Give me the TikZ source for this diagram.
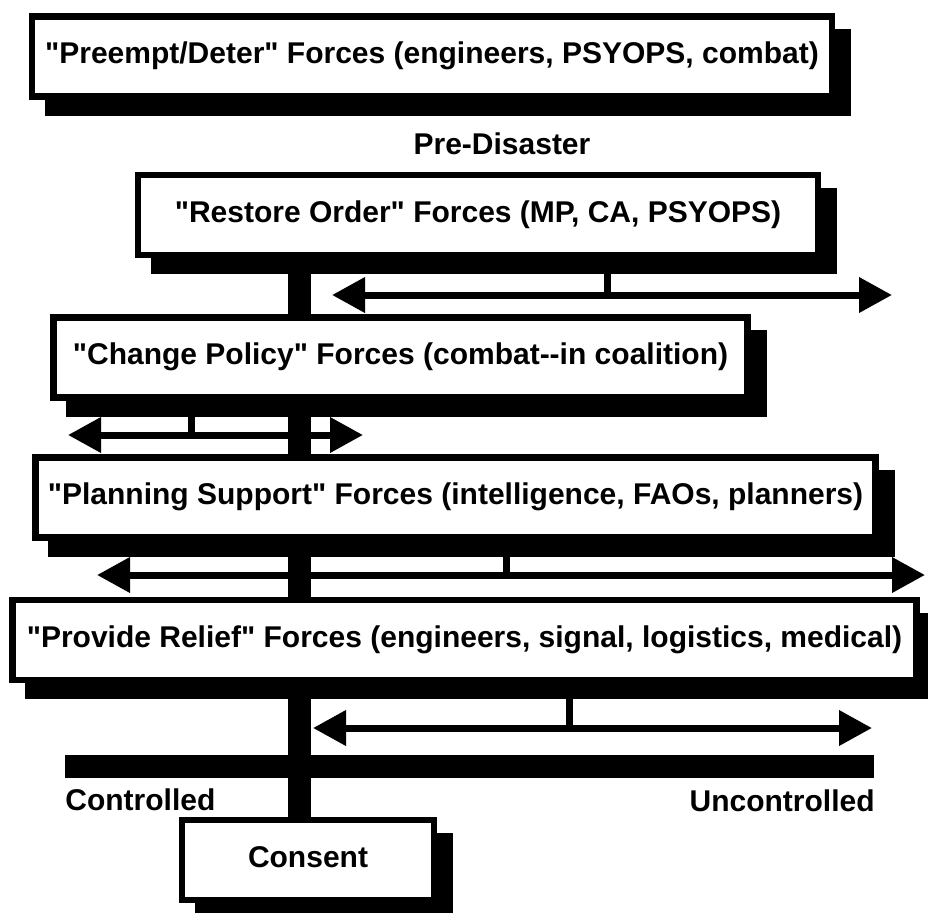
\documentclass[tikz,border=0pt]{standalone}
\usepackage{fontspec}
\setmainfont{Liberation Sans}
\usetikzlibrary{arrows.meta,shadows}
\newcommand{\qt}[1]{\textquotedbl#1\textquotedbl}
\begin{document}
\begin{tikzpicture}[x=0.5pt,y=-0.5pt,line cap=butt,>={Triangle[length=16.5pt,width=17pt]},
	force/.style={draw,line width=3.25pt,fill=white,minimum height=40pt,inner sep=0pt,text height=0.72em,text depth=0pt,
		font=\bfseries\fontsize{15pt}{18pt}\selectfont,
		drop shadow={shadow xshift=8pt,shadow yshift=-8pt,fill=black,draw=black,line width=3.25pt,opacity=1}},
	lbl/.style={inner sep=0pt,font=\bfseries\fontsize{15pt}{18pt}\selectfont},
	thickbar/.style={line width=11.5pt},
	stem/.style={line width=3.5pt},
	span/.style={<->,line width=3.5pt}]
	\useasboundingbox (0,0) rectangle (928,912);
	\node[force,minimum width=400pt] (preempt) at (432,56.5) {\qt{Preempt/Deter} Forces (engineers, PSYOPS, combat)};
	\node[lbl] (predisaster) at (502,144) {Pre-Disaster};
	\node[force,minimum width=340pt] (restore) at (478,215) {\qt{Restore Order} Forces (MP, CA, PSYOPS)};
	\node[force,minimum width=347pt] (change) at (400.5,357.5) {\qt{Change Policy} Forces (combat-{}-in coalition)};
	\node[force,minimum width=420pt] (planning) at (455.5,497.5) {\qt{Planning Support} Forces (intelligence, FAOs, planners)};
	\node[force,minimum width=452pt] (relief) at (464.5,640) {\qt{Provide Relief} Forces (engineers, signal, logistics, medical)};
	\node[force,minimum width=126pt] (consent) at (308,860) {Consent};
	\coordinate (trunk) at (299.5,0);
	\foreach \a/\b in {restore/change,change/planning,planning/relief,relief/consent}
	\draw[thickbar] (trunk |- \a.south) -- (trunk |- \b.north);
	\foreach \f/\l/\r/\s/\y in {restore/332/892/607.5/295,change/68/363/191.5/435,planning/97/925/506.5/575,relief/313/872/569/728}{
		\coordinate (\f-l) at (\l,\y);
		\coordinate (\f-r) at (\r,\y);
		\coordinate (\f-s) at (\s,\y);
		\draw[span] (\f-l) -- (\f-r);
		\draw[stem] (\f-s) -- (\f-s |- \f.south);
	}
	\coordinate (ctrl) at (65,766.5);
	\coordinate (unctrl) at (874,766.5);
	\draw[thickbar] (ctrl) -- (unctrl);
	\node[lbl,anchor=north west] (controlled) at (65,788) {Controlled};
	\node[lbl,anchor=north east] (uncontrolled) at (875,789) {Uncontrolled};
\end{tikzpicture}
\end{document}
